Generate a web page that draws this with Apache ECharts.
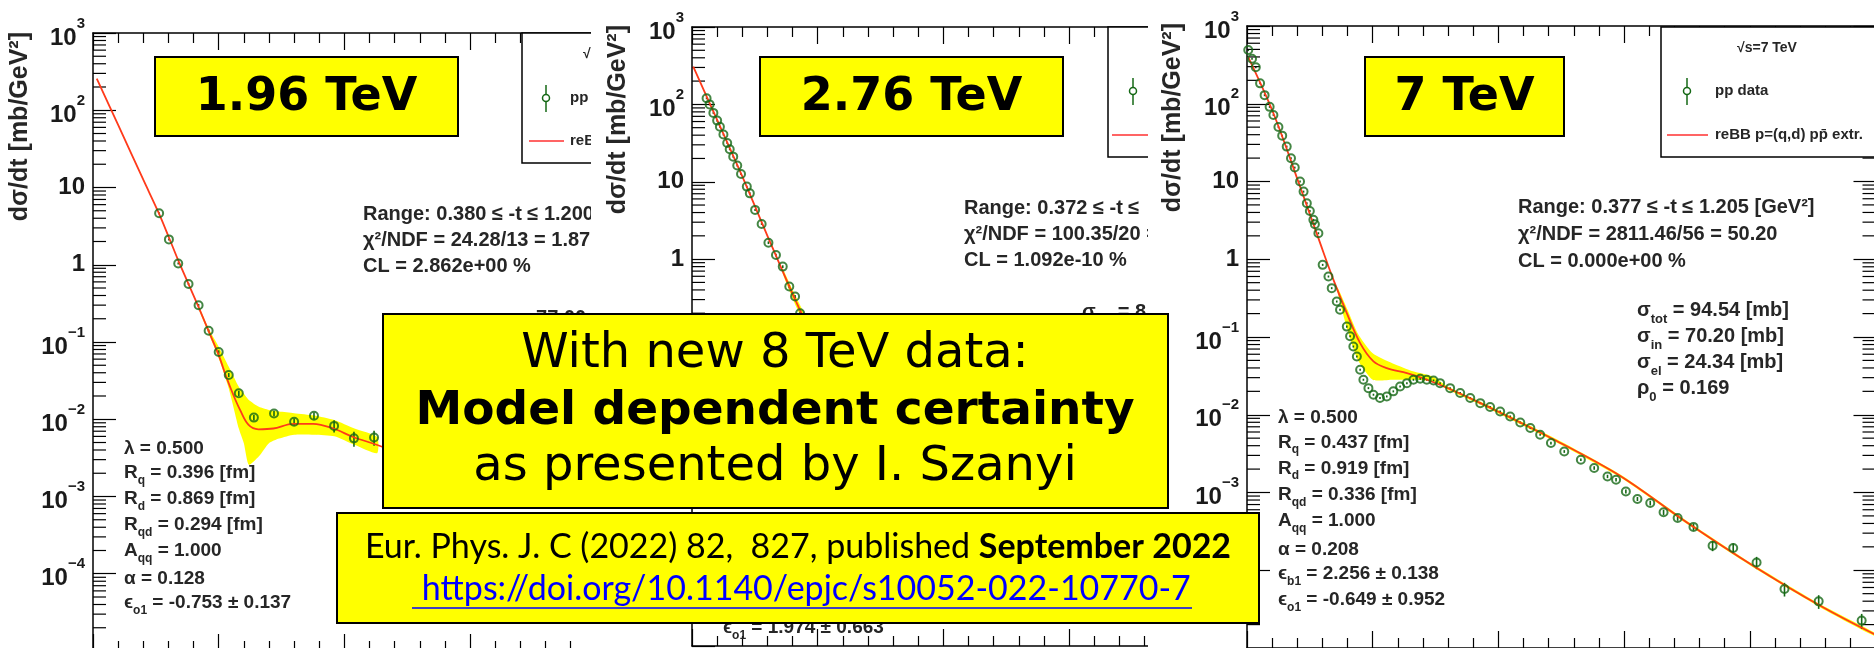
<!DOCTYPE html>
<html>
<head>
<meta charset="utf-8">
<title>reBB fits at 1.96, 2.76 and 7 TeV</title>
<script src="https://cdn.jsdelivr.net/npm/echarts@6/dist/echarts.min.js"></script>
<style>
html, body { margin: 0; padding: 0; background: #fff; }
#chart { width: 1874px; height: 648px; }
</style>
</head>
<body>
<div id="chart"></div>
<script>
// ---- 1.96 TeV (D0) ----
const t196 = [0.263, 0.302, 0.339, 0.380, 0.420, 0.460, 0.500, 0.540, 0.580, 0.640, 0.720, 0.800, 0.879, 0.959, 1.038, 1.118];
const y196 = [4.63, 2.13, 1.04, 0.563, 0.299, 0.140, 0.0743, 0.0374, 0.0217, 0.0105, 0.0119, 0.0093, 0.0111, 0.0082, 0.00566, 0.0058];
const e196 = [0.03, 0.03, 0.03, 0.03, 0.04, 0.04, 0.05, 0.06, 0.08, 0.08, 0.08, 0.1, 0.1, 0.18, 0.22, 0.22];
const fitT196 = [0.015, 0.1, 0.2, 0.26, 0.3, 0.34, 0.38, 0.42, 0.46, 0.5, 0.53, 0.56, 0.585, 0.618, 0.658, 0.717, 0.797, 0.876, 0.956, 1.035, 1.128, 1.2];
const fitY196 = [257, 64.6, 12.6, 4.79, 2.34, 1.12, 0.562, 0.282, 0.138, 0.0676, 0.0355, 0.0200, 0.0132, 0.00851, 0.00741, 0.00759, 0.00871, 0.00871, 0.00759, 0.00589, 0.00468, 0.0038];
const bandT196 = [0.42, 0.46, 0.50, 0.54, 0.58, 0.60, 0.62, 0.66, 0.70, 0.74, 0.80, 0.88, 0.96, 1.04, 1.13];
const bandLo196 = [0.269, 0.129, 0.0617, 0.0251, 0.00759, 0.0049, 0.00257, 0.00331, 0.0049, 0.00562, 0.00631, 0.00631, 0.00603, 0.00468, 0.00363];
const bandHi196 = [0.295, 0.150, 0.0871, 0.0479, 0.0263, 0.0214, 0.0178, 0.0145, 0.0132, 0.0126, 0.0120, 0.0112, 0.00977, 0.00759, 0.00589];

// ---- 2.76 TeV (TOTEM) ----
const t276 = [0.058, 0.07, 0.085, 0.10, 0.111, 0.125, 0.14, 0.15, 0.164, 0.18, 0.195, 0.218, 0.23, 0.251, 0.277, 0.304, 0.334, 0.361, 0.387, 0.410, 0.430];
const y276 = [120, 100, 77.6, 61.7, 51.5, 40.7, 31.6, 26.3, 21.1, 16.2, 12.6, 8.65, 7.08, 4.33, 2.85, 1.63, 1.13, 0.80, 0.442, 0.328, 0.20];
const e276 = [0.03, 0.03, 0.03, 0.03, 0.03, 0.03, 0.03, 0.03, 0.03, 0.03, 0.03, 0.03, 0.03, 0.03, 0.03, 0.04, 0.04, 0.04, 0.05, 0.05, 0.05];
const fitT276 = [0.005, 0.1, 0.2, 0.3, 0.4, 0.45, 0.5];
const fitY276 = [307, 63, 11.7, 2.0, 0.355, 0.16, 0.079];
const bandT276 = [0.36, 0.40, 0.45, 0.50];
const bandLo276 = [0.66, 0.31, 0.135, 0.066];
const bandHi276 = [0.76, 0.40, 0.19, 0.095];

// ---- 7 TeV (TOTEM) ----
const t7 = [0.005, 0.02, 0.035, 0.052, 0.07, 0.09, 0.105, 0.125, 0.14, 0.158, 0.175, 0.19, 0.211, 0.225, 0.238, 0.25, 0.264, 0.27, 0.284,
  0.301, 0.324, 0.337, 0.357, 0.370, 0.397, 0.410, 0.423, 0.437, 0.450, 0.463, 0.483, 0.503, 0.529, 0.556, 0.582, 0.609, 0.636, 0.662,
  0.689, 0.715, 0.742, 0.768, 0.808, 0.848, 0.888, 0.928, 0.967, 1.007, 1.047, 1.087, 1.127, 1.166, 1.209, 1.262, 1.328, 1.381, 1.434,
  1.468, 1.507, 1.553, 1.604, 1.657, 1.713, 1.776, 1.852, 1.934, 2.027, 2.138, 2.274, 2.445];
const y7 = [490, 380, 295, 183, 129, 91.2, 71.8, 50.1, 38.9, 28.1, 19.95, 15.1, 9.98, 7.41, 5.26, 4.17, 3.21, 2.82, 2.16,
  0.847, 0.600, 0.425, 0.286, 0.224, 0.136, 0.102, 0.0755, 0.0562, 0.0380, 0.0282, 0.0220, 0.0181, 0.0164, 0.0172, 0.0200, 0.0231, 0.0255, 0.0282,
  0.0290, 0.0282, 0.0276, 0.0255, 0.0220, 0.0190, 0.0164, 0.0141, 0.0126, 0.0110, 0.00951, 0.00796, 0.00675, 0.00553, 0.00433, 0.00337, 0.00264, 0.00207, 0.00161,
  0.00146, 0.00103, 0.000826, 0.000733, 0.000556, 0.000470, 0.000361, 0.000207, 0.000193, 0.000126, 5.74e-5, 3.98e-5, 2.25e-5];
const e7 = [0.03, 0.03, 0.03, 0.03, 0.03, 0.03, 0.03, 0.03, 0.03, 0.03, 0.03, 0.03, 0.03, 0.03, 0.03, 0.03, 0.03, 0.03, 0.03,
  0.03, 0.03, 0.03, 0.03, 0.03, 0.03, 0.03, 0.03, 0.03, 0.03, 0.03, 0.03, 0.03, 0.03, 0.03, 0.03, 0.03, 0.03, 0.03,
  0.03, 0.03, 0.03, 0.03, 0.03, 0.03, 0.03, 0.03, 0.03, 0.03, 0.03, 0.03, 0.03, 0.03, 0.04, 0.04, 0.04, 0.05, 0.05,
  0.05, 0.06, 0.06, 0.07, 0.08, 0.08, 0.1, 0.15, 0.15, 0.18, 0.2, 0.2, 0.22];
const fitT7 = [0.005, 0.105, 0.211, 0.291, 0.344, 0.397, 0.45, 0.503, 0.556, 0.636, 0.70, 0.80, 0.956, 1.222, 1.488, 1.753, 2.018, 2.284, 2.5];
const fitY7 = [398, 75.5, 8.61, 1.61, 0.543, 0.203, 0.0834, 0.0485, 0.0398, 0.0344, 0.0295, 0.0219, 0.0128, 0.00478, 0.00161, 0.000406, 0.000112, 3.44e-5, 1.48e-5];
const bandT7 = [0.36, 0.40, 0.44, 0.50, 0.58, 0.66, 0.74, 0.80, 0.956, 1.222, 1.488, 1.753, 2.018, 2.284, 2.5];
const bandLo7 = [0.380, 0.123, 0.0513, 0.0282, 0.0282, 0.0282, 0.0269, 0.0209, 0.0122, 0.00456, 0.00154, 0.000388, 0.000107, 3.28e-5, 1.41e-5];
const bandHi7 = [0.437, 0.224, 0.112, 0.0617, 0.0457, 0.0363, 0.0309, 0.0229, 0.0134, 0.00501, 0.00168, 0.000425, 0.000117, 3.60e-5, 1.55e-5];

// log axis minor ticks (2..9 x 10^k)
const minorMult = [2, 3, 4, 5, 6, 7, 8, 9];
const minorTicks = [];
for (let k = -5; k <= 2; k++) minorMult.forEach(m => minorTicks.push(m * Math.pow(10, k)));

const GREEN = '#156815';
const RED = '#ff3a1a';
const FONT = 'Liberation Sans';

// panel frames; later panels are pasted over earlier ones
const panels = [
  { left: 93, top: 33, width: 502.8, height: 618, xMax: 2.0, z: 1 },
  { left: 692, top: 27, width: 502.8, height: 619, xMax: 2.0, z: 5 },
  { left: 1247, top: 26, width: 628.5, height: 622, xMax: 2.5, z: 9 }
];

const axisLine = { show: true, onZero: false, lineStyle: { color: '#000', width: 1.5 } };
const tickStyle = { color: '#000', width: 1.2 };

function yLabel(v) {
  const k = Math.round(Math.log10(v));
  if (k <= -5) return '';
  if (k === 0) return '{m|1}';
  if (k === 1) return '{m|10}';
  return '{n|10}{p|' + (k < 0 ? '\u2212' + (-k) : k) + '}';
}

const xAxes = [];
const yAxes = [];
panels.forEach((p, i) => {
  ['bottom', 'top'].forEach(pos => xAxes.push({
    type: 'value', gridIndex: i, position: pos, min: 0, max: p.xMax, interval: 0.5, z: p.z,
    axisLine: axisLine,
    axisTick: { inside: true, length: 17, lineStyle: tickStyle },
    minorTick: { show: true, splitNumber: 5, length: 10, lineStyle: tickStyle },
    axisLabel: { show: false },
    splitLine: { show: false }
  }));
  yAxes.push({
    type: 'log', gridIndex: i, position: 'left', min: 1e-5, max: 1000, z: p.z,
    axisLine: axisLine,
    axisTick: { inside: true, length: 23, lineStyle: tickStyle },
    splitLine: { show: false },
    axisLabel: {
      margin: 8, formatter: yLabel,
      rich: {
        m: { fontFamily: FONT, fontSize: 24, fontWeight: 'bold', color: '#1a1a1a' },
        n: { fontFamily: FONT, fontSize: 24, fontWeight: 'bold', color: '#1a1a1a', verticalAlign: 'bottom', padding: [10, 0, 0, 0] },
        p: { fontFamily: FONT, fontSize: 15, fontWeight: 'bold', color: '#1a1a1a', verticalAlign: 'top' }
      }
    }
  });
});
yAxes.push({
  type: 'log', gridIndex: 2, position: 'right', min: 1e-5, max: 1000, z: 9,
  axisLine: axisLine,
  axisTick: { inside: true, length: 22, lineStyle: tickStyle },
  axisLabel: { show: false },
  splitLine: { show: false }
});

function bandSeries(i, T, lo, hi, z) {
  return {
    type: 'custom', xAxisIndex: 2 * i, yAxisIndex: i, z: z, silent: true,
    data: T.map((t, k) => [t, lo[k], hi[k]]),
    renderItem(params, api) {
      if (params.dataIndex !== 0) return null;
      const up = T.map((t, k) => api.coord([t, hi[k]]));
      const dn = T.map((t, k) => api.coord([t, lo[k]])).reverse();
      return { type: 'polygon', shape: { points: up.concat(dn), smooth: 0.2 }, style: { fill: '#ffff00' } };
    }
  };
}
function fitSeries(i, T, Y, z) {
  return {
    type: 'line', name: 'reBB p=(q,d) pp\u0304 extr.', xAxisIndex: 2 * i, yAxisIndex: i, z: z, silent: true,
    data: T.map((t, k) => [t, Y[k]]), showSymbol: false, smooth: 0.35,
    lineStyle: { color: RED, width: 1.8 }
  };
}
function errSeries(i, T, Y, E, z) {
  return {
    type: 'custom', xAxisIndex: 2 * i, yAxisIndex: i, z: z, silent: true,
    data: T.map((t, k) => [t, Y[k], E[k]]),
    renderItem(params, api) {
      const t = api.value(0), y = api.value(1), e = api.value(2);
      const a = api.coord([t, y * (1 + e)]);
      const b = api.coord([t, y * (1 - e)]);
      return { type: 'line', shape: { x1: a[0], y1: a[1], x2: b[0], y2: b[1] }, style: { stroke: GREEN, lineWidth: 1.6 } };
    }
  };
}
function dataSeries(i, T, Y, z) {
  return {
    type: 'scatter', name: 'pp data', xAxisIndex: 2 * i, yAxisIndex: i, z: z, silent: true,
    data: T.map((t, k) => [t, Y[k]]), symbol: 'circle', symbolSize: 8,
    itemStyle: { color: 'rgba(0,0,0,0)', borderColor: GREEN, borderWidth: 2 }
  };
}
function minorSeries(xi, yi, xPos, dir, z) {
  return {
    type: 'custom', xAxisIndex: xi, yAxisIndex: yi, z: z, silent: true,
    data: minorTicks.map(v => [xPos, v]),
    renderItem(params, api) {
      const p = api.coord([api.value(0), api.value(1)]);
      return { type: 'line', shape: { x1: p[0], y1: p[1], x2: p[0] + dir * 13, y2: p[1] }, style: { stroke: '#000', lineWidth: 1.2 } };
    }
  };
}

const series = [
  bandSeries(0, bandT196, bandLo196, bandHi196, 1),
  fitSeries(0, fitT196, fitY196, 1),
  errSeries(0, t196, y196, e196, 1),
  dataSeries(0, t196, y196, 1),
  minorSeries(0, 0, 0, 1, 1),
  bandSeries(1, bandT276, bandLo276, bandHi276, 5),
  fitSeries(1, fitT276, fitY276, 5),
  errSeries(1, t276, y276, e276, 5),
  dataSeries(1, t276, y276, 5),
  minorSeries(2, 1, 0, 1, 5),
  bandSeries(2, bandT7, bandLo7, bandHi7, 9),
  fitSeries(2, fitT7, fitY7, 9),
  errSeries(2, t7, y7, e7, 9),
  dataSeries(2, t7, y7, 9),
  minorSeries(4, 2, 0, 1, 9),
  minorSeries(4, 3, 2.5, -1, 9)
];

// ---- text helpers ----
function richSub(size) {
  const c = '#262626';
  return {
    n: { fontFamily: FONT, fontSize: size, fontWeight: 'bold', fill: c, color: c, verticalAlign: 'top' },
    s: { fontFamily: FONT, fontSize: Math.round(size * 0.65), fontWeight: 'bold', fill: c, color: c, verticalAlign: 'top', padding: [Math.round(size * 0.6), 0, 0, 0] }
  };
}
function txt(x, y, text, o) {
  o = o || {};
  const align = o.align || 'left';
  const valign = o.valign || 'middle';
  return {
    type: 'text', x: x, y: y, z: o.z, rotation: o.rotation || 0, silent: true,
    style: {
      text: text, fill: o.color || '#262626',
      fontFamily: o.family || FONT, fontSize: o.size || 20, fontWeight: o.weight || 'bold',
      align: align, verticalAlign: valign, textAlign: align, textVerticalAlign: valign,
      rich: o.rich
    }
  };
}
function line(x1, y1, x2, y2, color, w, z) {
  return { type: 'line', z: z, silent: true, shape: { x1, y1, x2, y2 }, style: { stroke: color, lineWidth: w } };
}
function rect(x, y, w, h, fill, stroke, lw, z) {
  return { type: 'rect', z: z, silent: true, shape: { x, y, width: w, height: h }, style: { fill: fill, stroke: stroke, lineWidth: lw } };
}
function legendBox(left, top, header, hx, hy, mx, my, rx1, rx2, ry, tx, z) {
  return [
    rect(left, top, 260, 130, '#fff', '#000', 1.5, z),
    txt(hx, hy, header, { size: 14, z: z }),
    line(mx, my - 13, mx, my + 14, GREEN, 1.5, z),
    { type: 'circle', z: z, silent: true, shape: { cx: mx, cy: my, r: 3.5 }, style: { fill: '#fff', stroke: GREEN, lineWidth: 1.5 } },
    txt(tx, my, 'pp data', { size: 15, z: z }),
    line(rx1, ry, rx2, ry, '#ff3030', 1.5, z),
    txt(tx, ry, 'reBB p=(q,d) pp\u0304 extr.', { size: 15, z: z })
  ];
}

const ylab = 'd\u03c3/dt [mb/GeV\u00b2]';
const params196 = ['{n|\u03bb = 0.500}', '{n|R}{s|q}{n| = 0.396 [fm]}', '{n|R}{s|d}{n| = 0.869 [fm]}', '{n|R}{s|qd}{n| = 0.294 [fm]}',
  '{n|A}{s|qq}{n| = 1.000}', '{n|\u03b1 = 0.128}', '{n|\u03f5}{s|o1}{n| = -0.753 \u00b1 0.137}'];
const params7 = ['{n|\u03bb = 0.500}', '{n|R}{s|q}{n| = 0.437 [fm]}', '{n|R}{s|d}{n| = 0.919 [fm]}', '{n|R}{s|qd}{n| = 0.336 [fm]}',
  '{n|A}{s|qq}{n| = 1.000}', '{n|\u03b1 = 0.208}', '{n|\u03f5}{s|b1}{n| = 2.256 \u00b1 0.138}', '{n|\u03f5}{s|o1}{n| = -0.649 \u00b1 0.952}'];
const sigma7 = ['{n|\u03c3}{s|tot}{n| = 94.54 [mb]}', '{n|\u03c3}{s|in}{n| = 70.20 [mb]}', '{n|\u03c3}{s|el}{n| = 24.34 [mb]}', '{n|\u03c1}{s|0}{n| = 0.169}'];

const graphic = [];
// panel 1
graphic.push(txt(20, 32, ylab, { size: 25, rotation: Math.PI / 2, align: 'right', z: 2 }));
graphic.push(txt(363, 214, 'Range: 0.380 \u2264 -t \u2264 1.200 [GeV\u00b2]', { z: 2 }));
graphic.push(txt(363, 240, '\u03c7\u00b2/NDF = 24.28/13 = 1.87', { z: 2 }));
graphic.push(txt(363, 266, 'CL = 2.862e+00 %', { z: 2 }));
graphic.push(txt(483, 321, '{n|\u03c3}{s|tot}{n| = 77.00 [mb]}', { z: 2, rich: richSub(20) }));
params196.forEach((s, k) => graphic.push(txt(124, 449 + 26 * k, s, { z: 2, size: 19, rich: richSub(19) })));
legendBox(522, 33, '\u221as=1.96 TeV', 583, 54, 546, 98, 529, 564, 141, 570, 2).forEach(e => graphic.push(e));
// panel 2 is pasted over panel 1
graphic.push(rect(591, 0, 1283, 648, '#fff', null, 0, 4));
graphic.push(txt(618, 25, ylab, { size: 25, rotation: Math.PI / 2, align: 'right', z: 6 }));
graphic.push(txt(964, 208, 'Range: 0.372 \u2264 -t \u2264', { z: 6 }));
graphic.push(txt(964, 234, '\u03c7\u00b2/NDF = 100.35/20 =', { z: 6 }));
graphic.push(txt(964, 260, 'CL = 1.092e-10 %', { z: 6 }));
graphic.push(txt(1082, 315, '{n|\u03c3}{s|tot}{n| = 8}', { z: 6, rich: richSub(20) }));
graphic.push(txt(723, 630, '{n|\u03f5}{s|o1}{n| = 1.974 \u00b1 0.663}', { z: 6, size: 19, rich: richSub(19) }));
legendBox(1108, 27, '\u221as=2.76 TeV', 1180, 48, 1133, 91, 1112, 1150, 135, 1158, 6).forEach(e => graphic.push(e));
// panel 3 is pasted over panel 2
graphic.push(rect(1148, 0, 726, 648, '#fff', null, 0, 8));
graphic.push(txt(1173, 23, ylab, { size: 25, rotation: Math.PI / 2, align: 'right', z: 10 }));
graphic.push(txt(1518, 207, 'Range: 0.377 \u2264 -t \u2264 1.205 [GeV\u00b2]', { z: 10 }));
graphic.push(txt(1518, 234, '\u03c7\u00b2/NDF = 2811.46/56 = 50.20', { z: 10 }));
graphic.push(txt(1518, 261, 'CL = 0.000e+00 %', { z: 10 }));
sigma7.forEach((s, k) => graphic.push(txt(1637, 313 + 26 * k, s, { z: 10, rich: richSub(20) })));
params7.forEach((s, k) => graphic.push(txt(1278, 418 + 26.3 * k, s, { z: 10, size: 19, rich: richSub(19) })));
legendBox(1661, 27, '\u221as=7 TeV', 1737, 48, 1687, 91, 1667, 1708, 135, 1715, 10).forEach(e => graphic.push(e));

// yellow slide boxes
const YEL = '#ffff00';
const DJ = 'DejaVu Sans';
[[155, 303, '1.96 TeV'], [760, 303, '2.76 TeV'], [1365, 199, '7 TeV']].forEach(b => {
  graphic.push(rect(b[0], 57, b[1], 79, YEL, '#000', 2, 20));
  graphic.push(txt(b[0] + b[1] / 2, 98, b[2], { family: DJ, size: 46, weight: 'bold', color: '#000', align: 'center', z: 21 }));
});
graphic.push(rect(383, 314, 785, 194, YEL, '#000', 2, 20));
graphic.push(txt(775, 355, 'With new 8 TeV data:', { family: DJ, size: 48, weight: 'normal', color: '#000', align: 'center', z: 21 }));
graphic.push(txt(775, 412, 'Model dependent certainty', { family: DJ, size: 47, weight: 'bold', color: '#000', align: 'center', z: 21 }));
graphic.push(txt(775, 468, 'as presented by I. Szanyi', { family: DJ, size: 48, weight: 'normal', color: '#000', align: 'center', z: 21 }));
graphic.push(rect(337, 513, 922, 110, YEL, '#000', 2, 20));
graphic.push(txt(798, 547, 'Eur. Phys. J. C (2022) 82,  827, published {b|September 2022}', {
  family: 'Lato', size: 34, weight: 'normal', color: '#000', align: 'center', z: 21,
  rich: { b: { fontFamily: 'Lato', fontSize: 34, fontWeight: 'bold', fill: '#000', color: '#000' } }
}));
graphic.push(txt(802, 589, ' https://doi.org/10.1140/epjc/s10052-022-10770-7', { family: 'Lato', size: 34, weight: 'normal', color: '#0000ff', align: 'center', z: 21 }));
graphic.push(line(412, 608, 1192, 608, '#0000ff', 1.6, 21));

const chart = echarts.init(document.getElementById('chart'), null, { renderer: 'canvas' });
chart.setOption({
  animation: false,
  backgroundColor: '#fff',
  grid: panels.map(p => ({ left: p.left, top: p.top, width: p.width, height: p.height, containLabel: false, outerBoundsMode: 'none', show: false })),
  xAxis: xAxes,
  yAxis: yAxes,
  series: series,
  graphic: { elements: graphic }
});
</script>
</body>
</html>
